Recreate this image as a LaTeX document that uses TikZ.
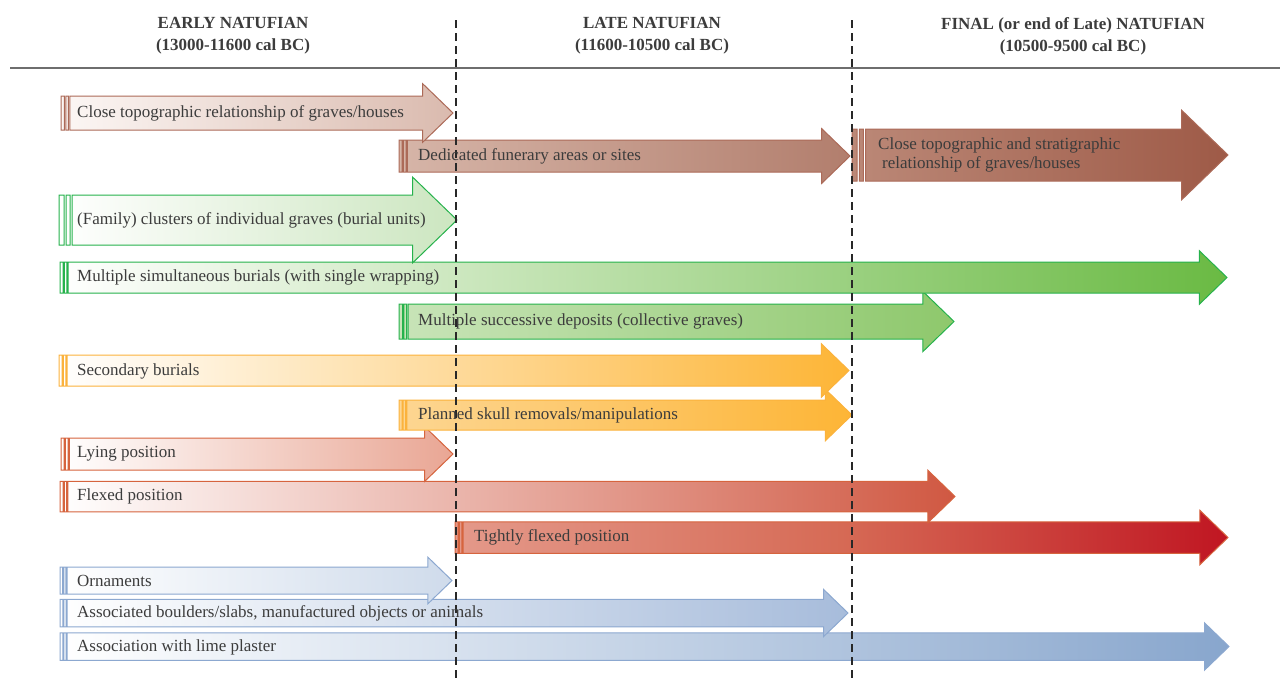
\documentclass[tikz,border=0pt]{standalone}
\usepackage{fontspec}
\setmainfont{Liberation Serif}
\definecolor{txt}{RGB}{60,60,60}
\definecolor{brownB}{RGB}{172,106,88}
\definecolor{greenB}{RGB}{38,178,76}
\definecolor{orangeB}{RGB}{251,178,60}
\definecolor{redB}{RGB}{214,100,62}
\definecolor{blueB}{RGB}{140,168,208}
\definecolor{bA}{RGB}{252,247,245}
\definecolor{bB}{RGB}{218,186,174}
\definecolor{bC}{RGB}{214,181,168}
\definecolor{bD}{RGB}{178,126,109}
\definecolor{bE}{RGB}{187,136,119}
\definecolor{bF}{RGB}{158,90,71}
\definecolor{gA}{RGB}{204,230,192}
\definecolor{gB}{RGB}{106,186,67}
\definecolor{gC}{RGB}{200,228,184}
\definecolor{gD}{RGB}{142,200,108}
\definecolor{oA}{RGB}{253,181,54}
\definecolor{oB}{RGB}{253,214,146}
\definecolor{rA}{RGB}{233,166,148}
\definecolor{rB}{RGB}{208,88,66}
\definecolor{rC}{RGB}{228,153,138}
\definecolor{rD}{RGB}{214,106,85}
\definecolor{rE}{RGB}{192,22,34}
\definecolor{uA}{RGB}{207,219,235}
\definecolor{uB}{RGB}{167,188,219}
\definecolor{uC}{RGB}{136,166,205}
\newcommand\stripedarrow[8]{%
 \pgfmathsetmacro\sxa{#1+0.1*#4}%
 \pgfmathsetmacro\sxb{#1+0.14*#4}%
 \pgfmathsetmacro\sxc{#1+0.22*#4}%
 \pgfmathsetmacro\sxd{#1+0.26*#4}%
 \pgfmathsetmacro\syt{-#3+#4/2}%
 \pgfmathsetmacro\syb{-#3-#4/2}%
 \pgfmathsetmacro\hyt{-#3+0.86*#4}%
 \pgfmathsetmacro\hyb{-#3-0.86*#4}%
 \pgfmathsetmacro\hx{#2-0.89*#4}%
 \shadedraw[arrowline, draw=#7, left color=#5, right color=#6, #8]
   (#1,\syt) rectangle (\sxa,\syb)
   (\sxb,\syt) rectangle (\sxc,\syb)
   (\sxd,\syt) -- (\hx,\syt) -- (\hx,\hyt) -- (#2,-#3) -- (\hx,\hyb) -- (\hx,\syb) -- (\sxd,\syb) -- cycle;
}
\begin{document}
\begin{tikzpicture}[x=1pt,y=1pt,
  arrowline/.style={line width=1pt, line join=miter},
  lbl/.style={anchor=west, inner sep=0pt, text=txt, font=\fontsize{17}{19}\selectfont},
  hdr/.style={align=center, inner sep=0pt, text=txt, font=\fontsize{17}{22}\selectfont\bfseries},
  period/.style={dash pattern=on 8pt off 5pt, line width=1.4pt, draw={rgb,255:red,40;green,40;blue,40}}]
\useasboundingbox (0,0) rectangle (1280,-678);
% arrows, bottom to top
\stripedarrow{60}{1229}{646.5}{27.5}{white}{uC}{blueB}{}
\stripedarrow{60}{848}{613}{27.5}{white}{uB}{blueB}{}
\stripedarrow{60}{452}{580.5}{27}{white}{uA}{blueB}{}
\stripedarrow{455}{1228}{537.5}{31.5}{rC}{rE}{redB}{middle color=rD}
\stripedarrow{60}{955}{496.5}{30.5}{white}{rB}{redB}{}
\stripedarrow{61}{453}{454}{32}{white}{rA}{redB}{}
\stripedarrow{399}{852}{415}{30}{oB}{oA}{orangeB}{}
\stripedarrow{59}{849}{370.5}{31}{white}{oA}{orangeB}{}
\stripedarrow{399}{954}{321.5}{35}{gC}{gD}{greenB}{}
\stripedarrow{60}{1227}{277.5}{31}{white}{gB}{greenB}{}
\stripedarrow{59}{457}{220}{50}{white}{gA}{greenB}{}
\stripedarrow{852}{1228}{155}{52}{bE}{bF}{brownB}{}
\stripedarrow{399}{850}{156}{32}{bC}{bD}{brownB}{}
\stripedarrow{61}{453}{113}{34}{bA}{bB}{brownB}{}
% header
\node[hdr] (h1) at (233,-36) {EARLY NATUFIAN\\(13000-11600 cal BC)};
\node[hdr] (h2) at (652,-36) {LATE NATUFIAN\\(11600-10500 cal BC)};
\node[hdr] (h3) at (1073,-36) {FINAL (or end of Late) NATUFIAN\\(10500-9500 cal BC)};
\coordinate (hl) at (10,-68);
\coordinate (hr) at (1280,-68);
\draw[line width=2.4pt, draw={rgb,255:red,110;green,110;blue,110}] (hl) -- (hr);
% period boundaries
\coordinate (d1t) at (456,-20);
\coordinate (d1b) at (456,-678);
\coordinate (d2t) at (852,-20);
\coordinate (d2b) at (852,-678);
\draw[period] (d1t) -- (d1b);
\draw[period] (d2t) -- (d2b);
% labels
\node[lbl] (t1) at (77,-113) {Close topographic relationship of graves/houses};
\node[lbl] (t2) at (418,-156) {Dedicated funerary areas or sites};
\node[lbl, align=left] (t3) at (878,-155) {Close topographic and stratigraphic\\\hspace*{4pt}relationship of graves/houses};
\node[lbl] (t4) at (77,-220) {(Family) clusters of individual graves (burial units)};
\node[lbl] (t5) at (77,-277.5) {Multiple simultaneous burials (with single wrapping)};
\node[lbl] (t6) at (418,-321.5) {Multiple successive deposits (collective graves)};
\node[lbl] (t7) at (77,-371) {Secondary burials};
\node[lbl] (t8) at (418,-415) {Planned skull removals/manipulations};
\node[lbl] (t9) at (77,-454) {Lying position};
\node[lbl] (t10) at (77,-496.5) {Flexed position};
\node[lbl] (t11) at (474,-537.5) {Tightly flexed position};
\node[lbl] (t12) at (77,-580.5) {Ornaments};
\node[lbl] (t13) at (77,-613) {Associated boulders/slabs, manufactured objects or animals};
\node[lbl] (t14) at (77,-647) {Association with lime plaster};
\end{tikzpicture}
\end{document}
